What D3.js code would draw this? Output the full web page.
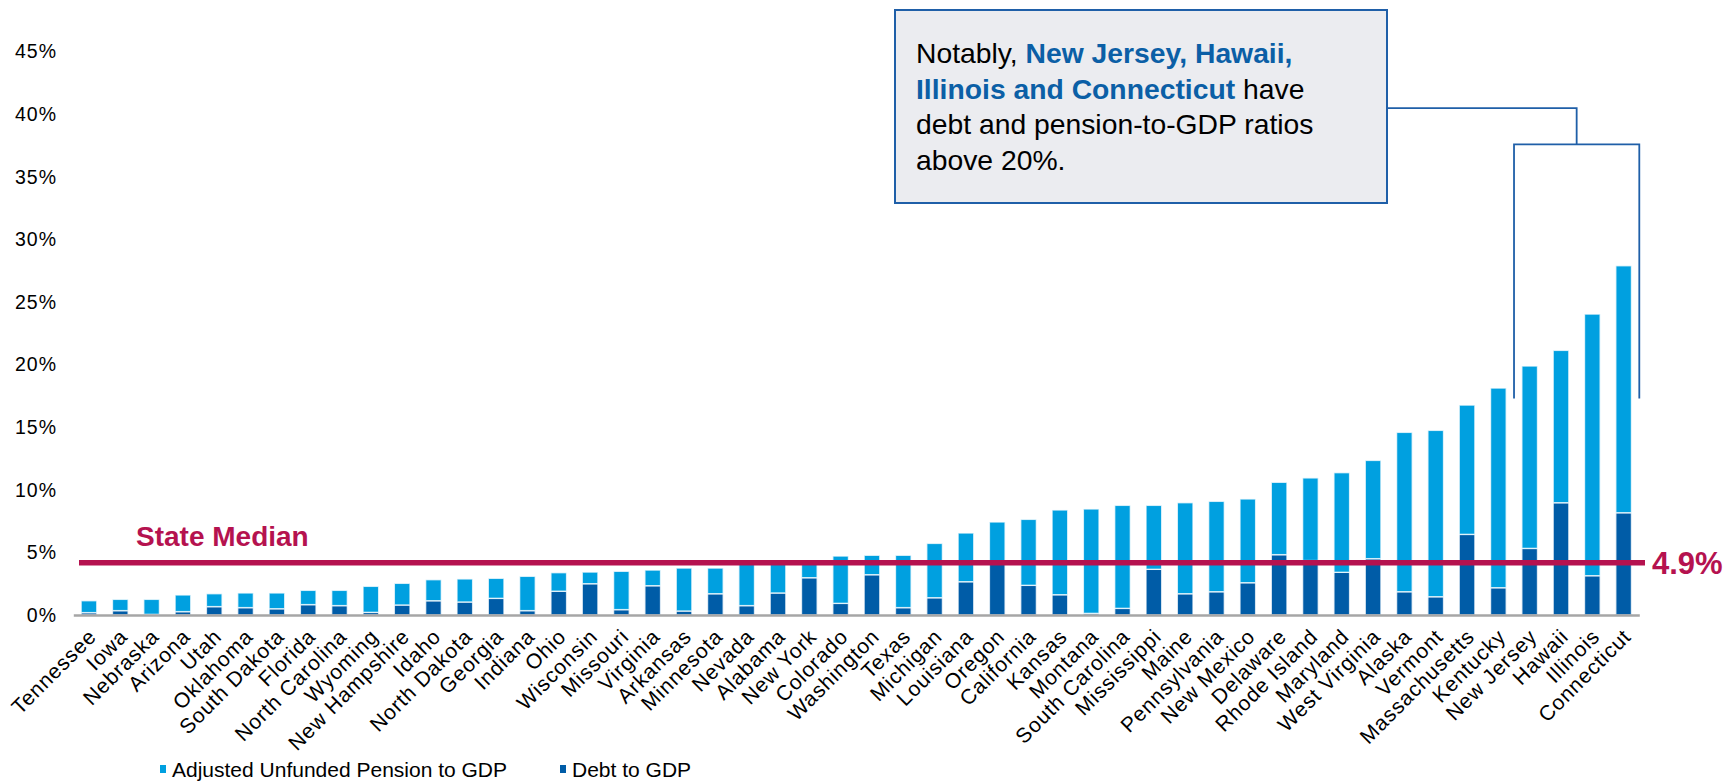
<!DOCTYPE html>
<html><head><meta charset="utf-8">
<script src="https://cdn.jsdelivr.net/npm/d3@7"></script>
<style>
body{margin:0;background:#fff;}
text{font-family:"Liberation Sans", Arial, sans-serif;}
</style>
</head><body>
<svg id="chart" width="1725" height="781"></svg>
<script>
// ---------------- data ----------------
const states = ["Tennessee","Iowa","Nebraska","Arizona","Utah","Oklahoma","South Dakota","Florida","North Carolina","Wyoming",
  "New Hampshire","Idaho","North Dakota","Georgia","Indiana","Ohio","Wisconsin","Missouri","Virginia","Arkansas",
  "Minnesota","Nevada","Alabama","New York","Colorado","Washington","Texas","Michigan","Louisiana","Oregon",
  "California","Kansas","Montana","South Carolina","Mississippi","Maine","Pennsylvania","New Mexico","Delaware","Rhode Island",
  "Maryland","West Virginia","Alaska","Vermont","Massachusetts","Kentucky","New Jersey","Hawaii","Illinois","Connecticut"];
// Debt to GDP (%)
const debtToGDP = [0.19,0.35,0.05,0.27,0.67,0.59,0.50,0.83,0.75,0.21,
  0.80,1.14,1.04,1.33,0.35,1.90,2.50,0.43,2.34,0.32,
  1.70,0.75,1.76,2.98,0.93,3.22,0.59,1.38,2.66,4.10,
  2.37,1.62,0.13,0.53,3.65,1.70,1.86,2.58,4.82,4.35,
  3.41,4.50,1.86,1.46,6.44,2.18,5.32,8.97,3.14,8.17];
// Adjusted Unfunded Pension to GDP (%)
const pensionToGDP = [0.95,0.90,1.20,1.33,1.03,1.17,1.26,1.14,1.22,2.08,
  1.73,1.68,1.84,1.60,2.74,1.48,0.93,3.06,1.25,3.43,
  2.05,3.35,2.34,1.17,3.78,1.55,4.18,4.34,3.89,3.33,
  5.27,6.77,8.34,8.23,5.11,7.27,7.22,6.69,5.78,6.60,
  7.96,7.85,12.73,13.29,10.33,15.95,14.57,12.17,20.90,19.73];
const yTicks = [0,5,10,15,20,25,30,35,40,45];
const seriesNames = ["Adjusted Unfunded Pension to GDP","Debt to GDP"];
const medianLabel = "4.9%";
const medianLineAt = 4.18;      // level where the reference draws the median line
const medianTitle = "State Median";
const highlighted = ["New Jersey","Hawaii","Illinois","Connecticut"];
const bracketLevels = {bottom:17.3, top:37.6, connector:40.5};

// ---------------- styles ----------------
const C_LIGHT = "#00a0e0", C_DARK = "#005ca7", C_MED = "#b5124f", C_BOX = "#1f5fa8";

const svg = d3.select("#chart");
const x = d3.scaleBand().domain(states).range([73.3,1639.3]).paddingInner(0.5).paddingOuter(0.25);
const y = d3.scaleLinear().domain([0,45]).range([615,51.7]);

const rows = states.map((s,i)=>({state:s, debt:debtToGDP[i], pension:pensionToGDP[i]}));
const stack = d3.stack().keys(["debt","pension"])(rows);
const colors = {debt:C_DARK, pension:C_LIGHT};

// y axis
const yAxis = svg.append("g").attr("transform","translate(60,0)")
  .call(d3.axisLeft(y).tickValues(yTicks).tickFormat(d=>d+"%").tickSize(0).tickPadding(3));
yAxis.select(".domain").remove();
yAxis.selectAll("text").attr("font-size",19.5).attr("fill","#000").attr("letter-spacing","1px")
  .attr("font-family","'Liberation Sans', Arial, sans-serif");

// bars
stack.forEach(layer=>{
  svg.append("g").selectAll("rect").data(layer).join("rect")
    .attr("x",d=>x(d.data.state))
    .attr("width",x.bandwidth())
    .attr("y",d=>y(d[1]))
    .attr("height",d=>Math.max(0,y(d[0])-y(d[1])))
    .attr("fill",colors[layer.key])
    .attr("stroke","#ffffff").attr("stroke-opacity",0.75).attr("stroke-width",1.4);
});

// x axis
const xAxis = svg.append("g").attr("transform","translate(0,615)")
  .call(d3.axisBottom(x).tickSize(0).tickSizeOuter(0));
xAxis.select(".domain").attr("stroke","#a6a6a6").attr("stroke-width",2.5);
xAxis.selectAll("text")
  .attr("font-size",21).attr("fill","#000").attr("letter-spacing","0.9px")
  .attr("font-family","'Liberation Sans', Arial, sans-serif")
  .attr("text-anchor","end")
  .attr("x",-10).attr("y",15).attr("dy","0.35em")
  .attr("transform","rotate(-45)");

// median line
const yMed = y(medianLineAt);
svg.append("line").attr("x1",79).attr("x2",1645).attr("y1",yMed).attr("y2",yMed)
  .attr("stroke",C_MED).attr("stroke-width",5.5);
svg.append("text").attr("x",136).attr("y",yMed-17).text(medianTitle)
  .attr("fill",C_MED).attr("font-weight","bold").attr("font-size",28);
svg.append("text").attr("x",1652).attr("y",yMed).attr("dy","0.36em").text(medianLabel)
  .attr("fill",C_MED).attr("font-weight","bold").attr("font-size",31);

// legend
const legend = svg.append("g");
const legItems = [{name:seriesNames[0],color:C_LIGHT,x:160},{name:seriesNames[1],color:C_DARK,x:560}];
legItems.forEach(it=>{
  legend.append("rect").attr("x",it.x).attr("y",765).attr("width",6).attr("height",8).attr("fill",it.color);
  legend.append("text").attr("x",it.x+12).attr("y",769).attr("dy","0.36em").text(it.name)
    .attr("font-size",21).attr("fill","#000");
});

// annotation box
const box = svg.append("g");
box.append("rect").attr("x",895).attr("y",10).attr("width",492).attr("height",193)
  .attr("fill","#ebecf0").attr("stroke",C_BOX).attr("stroke-width",2);
const lines = [
  [{t:"Notably, ",b:false},{t:"New Jersey, Hawaii,",b:true}],
  [{t:"Illinois and Connecticut",b:true},{t:" have",b:false}],
  [{t:"debt and pension-to-GDP ratios",b:false}],
  [{t:"above 20%.",b:false}]
];
lines.forEach((ln,i)=>{
  const t = box.append("text").attr("x",916).attr("y",63+i*35.5).attr("font-size",28.3).attr("fill","#000");
  ln.forEach(seg=>{
    t.append("tspan").text(seg.t)
      .attr("font-weight",seg.b?"bold":"normal")
      .attr("fill",seg.b?"#0b5fa6":"#000")
      .style("white-space","pre");
  });
});

// bracket connector
const bx0 = x(highlighted[0]) - x.step()*x.paddingInner()/2;
const bx1 = x(highlighted[highlighted.length-1]) + x.bandwidth() + x.step()*x.paddingInner()/2;
const bmid = (bx0+bx1)/2;
const path = d3.path();
path.moveTo(bx0,y(bracketLevels.bottom)); path.lineTo(bx0,y(bracketLevels.top));
path.lineTo(bx1,y(bracketLevels.top)); path.lineTo(bx1,y(bracketLevels.bottom));
path.moveTo(bmid,y(bracketLevels.top)); path.lineTo(bmid,y(bracketLevels.connector));
path.lineTo(1387,y(bracketLevels.connector));
svg.append("path").attr("d",path.toString()).attr("fill","none").attr("stroke",C_BOX).attr("stroke-width",1.8);
</script>
</body></html>
